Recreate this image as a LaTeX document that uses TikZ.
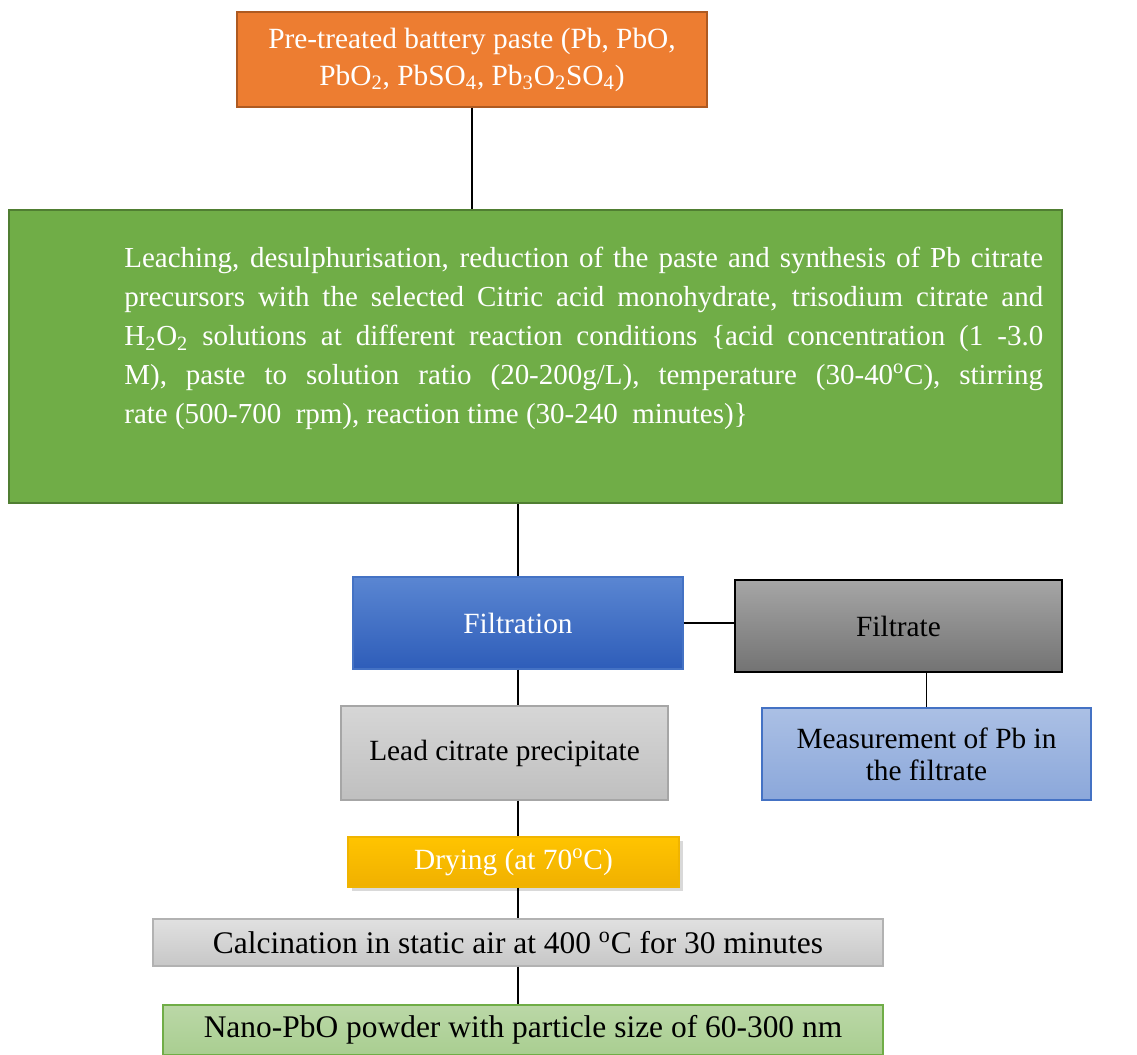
\documentclass[tikz,border=0pt]{standalone}
\usepackage{fontspec}
\setmainfont{Liberation Serif}
\usetikzlibrary{shadows}
\definecolor{orng}{HTML}{ED7D31}
\definecolor{orngline}{HTML}{AE5A21}
\definecolor{grn}{HTML}{70AD47}
\definecolor{grnline}{HTML}{507E32}
\definecolor{bluetop}{HTML}{5A86D2}
\definecolor{bluebot}{HTML}{2E5DB9}
\definecolor{blueline}{HTML}{4472C4}
\begin{document}
\begin{tikzpicture}[x = .02cm, y = -.02cm,
    box/.style = {draw, line width = .8pt, inner sep = 2pt, align = center,
      font = \fontsize{16.7}{21}\selectfont},
    bigtext/.style = {font = \fontsize{17.9}{21}\selectfont},
    whitetext/.style = {text = white},
    flowline/.style = {line width = .6pt}]
    \useasboundingbox (0,0) rectangle (1137,1055);
    \node (paste) [box, whitetext, fill = orng, draw = orngline,
      minimum width = 9.4cm, minimum height = 1.9cm] at (472,59.5)
      {Pre-treated battery paste (Pb, PbO,\\
       PbO\textsubscript{2}, PbSO\textsubscript{4}, Pb\textsubscript{3}O\textsubscript{2}SO\textsubscript{4})};
    \node (leach) [box, fill = grn, draw = grnline, line width = 1.2pt,
      minimum width = 21.06cm, minimum height = 5.86cm] at (535.5,356.5) {};
    \node (leachtext) [whitetext, anchor = north west, inner sep = 0pt,
      text width = 18.38cm, align = justify,
      font = \fontsize{16.5}{22.2}\selectfont] at (124,247)
      {Leaching, desulphurisation, reduction of the paste and synthesis of Pb citrate\linebreak
       precursors with the selected Citric acid monohydrate, trisodium citrate and\linebreak
       H\textsubscript{2}O\textsubscript{2} solutions at different reaction conditions \{acid concentration (1 -3.0\linebreak
       M), paste to solution ratio (20-200g/L), temperature (30-40\textsuperscript{o}C), stirring\linebreak
       rate (500-700\ \ rpm), reaction time (30-240\ \ minutes)\}};
    \node (filtration) [box, whitetext, draw = blueline, top color = bluetop,
      bottom color = bluebot, minimum width = 6.6cm, minimum height = 1.84cm]
      at (518,623) {Filtration};
    \node (filtrate) [box, draw = black, top color = black!35,
      bottom color = black!55, minimum width = 6.54cm, minimum height = 1.84cm]
      at (898.5,626) {Filtrate};
    \node (measure) [box, draw = blueline, top color = blueline!45,
      bottom color = blueline!62, minimum width = 6.58cm, minimum height = 1.84cm,
      font = \fontsize{16.7}{18.3}\selectfont]
      at (926.5,754) {Measurement of Pb in\\ the filtrate};
    \node (precip) [box, draw = black!35, top color = black!16,
      bottom color = black!25, minimum width = 6.54cm, minimum height = 1.88cm]
      at (504.5,753) {Lead citrate precipitate};
    \node (drying) [box, whitetext, draw = {rgb,255:red,240;green,180;blue,0},
      top color = {rgb,255:red,255;green,196;blue,0},
      bottom color = {rgb,255:red,240;green,176;blue,0}, drop shadow = {opacity = .3},
      minimum width = 6.62cm, minimum height = 1cm]
      at (513.5,862) {Drying (at 70\textsuperscript{o}C)};
    \node (calcine) [box, bigtext, draw = black!30, top color = black!12,
      bottom color = black!22, minimum width = 14.6cm, minimum height = .94cm]
      at (518,942.5) {Calcination in static air at 400 \textsuperscript{o}C for 30 minutes};
    \node (nano) [box, bigtext, draw = grn, top color = grn!48,
      bottom color = grn!60, minimum width = 14.4cm, minimum height = 1cm]
      at (523,1030) {Nano-PbO powder with particle size of 60-300 nm};
    \draw [flowline] (paste.south) -- (paste.south |- leach.north);
    \draw [flowline] (filtration.north |- leach.south) -- (filtration.north);
    \draw [flowline] (filtration.east) -- (filtration.east -| filtrate.west);
    \draw [flowline] (measure.north |- filtrate.south) -- (measure.north);
    \draw [flowline] (filtration.south) -- (filtration.south |- precip.north);
    \draw [flowline] (calcine.north |- precip.south) -- (calcine.north |- drying.north);
    \draw [flowline] (calcine.north |- drying.south) -- (calcine.north);
    \draw [flowline] (calcine.south) -- (calcine.south |- nano.north);
  \end{tikzpicture}
\end{document}
